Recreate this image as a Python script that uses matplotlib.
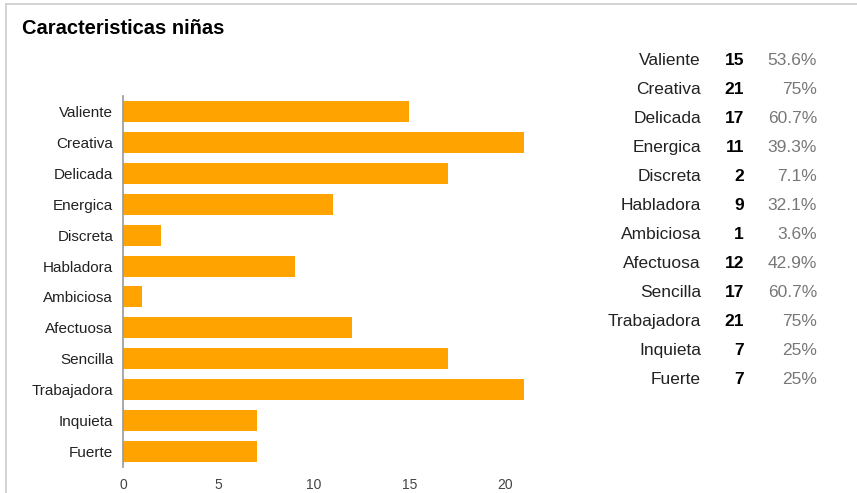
import matplotlib.pyplot as plt
from matplotlib.lines import Line2D

plt.rcParams['font.family'] = ['Liberation Sans', 'DejaVu Sans']

# datos
categorias = ["Valiente", "Creativa", "Delicada", "Energica", "Discreta", "Habladora",
              "Ambiciosa", "Afectuosa", "Sencilla", "Trabajadora", "Inquieta", "Fuerte"]
cuentas = [15, 21, 17, 11, 2, 9, 1, 12, 17, 21, 7, 7]
porcentajes = ["53.6%", "75%", "60.7%", "39.3%", "7.1%", "32.1%",
               "3.6%", "42.9%", "60.7%", "75%", "25%", "25%"]
ticks_x = [0, 5, 10, 15, 20]

W, H = 857, 493
fig = plt.figure(figsize=(W / 100, H / 100), dpi=100)

# marco gris (arriba e izquierda)
fig.add_artist(Line2D([6 / W, 1], [1 - 4 / H, 1 - 4 / H], color='#cccccc', lw=1.2,
                      transform=fig.transFigure))
fig.add_artist(Line2D([6 / W, 6 / W], [0, 1 - 4 / H], color='#cccccc', lw=1.2,
                      transform=fig.transFigure))

fig.text(22 / W, 1 - 28 / H, "Caracteristicas niñas", fontsize=14.5, fontweight='bold',
         va='center', ha='left', color='#000000')

ax = fig.add_axes([123 / W, 1 - 467 / H, 401 / W, 371 / H])
y = list(range(len(categorias)))
ax.barh(y, cuentas, height=0.68, color='#ffa300', edgecolor='none')
ax.set_xlim(0, 21)
ax.set_ylim(11.5, -0.5)
ax.set_yticks(y)
ax.set_yticklabels(categorias, fontsize=11, color='#222222')
ax.set_xticks(ticks_x)
ax.set_xticklabels([str(t) for t in ticks_x], fontsize=10, color='#444444')
ax.tick_params(length=0)
ax.tick_params(axis='y', pad=7)
ax.tick_params(axis='x', pad=8)
for s in ['top', 'right', 'bottom']:
    ax.spines[s].set_visible(False)
ax.spines['left'].set_color('#999999')
ax.spines['left'].set_linewidth(1.2)

# tabla a la derecha
for i, (cat, n, p) in enumerate(zip(categorias, cuentas, porcentajes)):
    yy = 1 - (65 + i * 29) / H
    fig.text(701 / W, yy, cat, fontsize=12.5, ha='right', va='baseline', color='#222222')
    fig.text(744 / W, yy, str(n), fontsize=12.5, ha='right', va='baseline',
             fontweight='bold', color='#000000')
    fig.text(817 / W, yy, p, fontsize=12.5, ha='right', va='baseline', color='#777777')

fig.savefig('out.png', dpi=100)
